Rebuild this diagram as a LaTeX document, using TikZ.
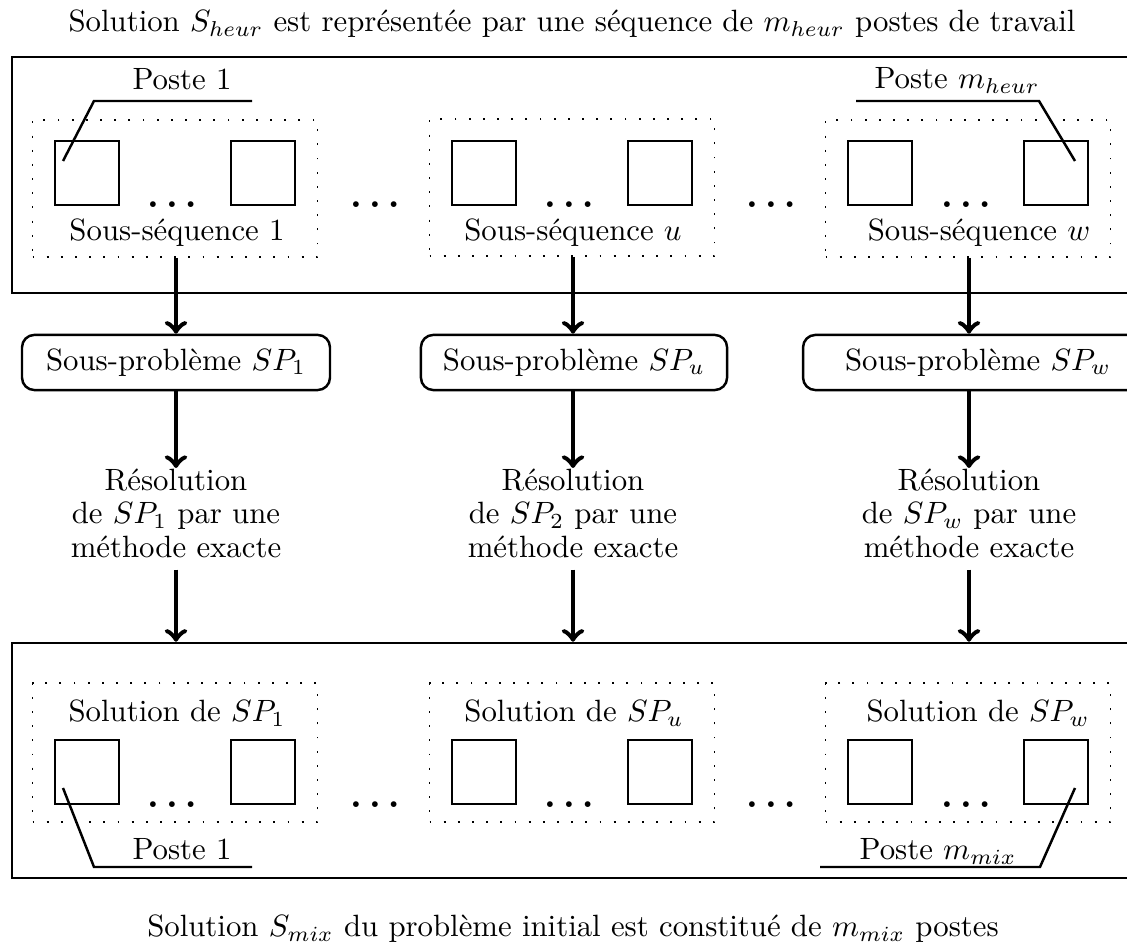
\documentclass[tikz,border=0pt]{standalone}
\usepackage{amsmath, amssymb, bm}
\usetikzlibrary{positioning}

\tikzset{
    cadre/.style={draw, thick, inner sep=0pt, minimum width=366.3pt},
    groupe/.style={draw, semithick, loosely dotted, inner sep=0pt, minimum width=92.5pt},
    poste/.style={draw, thick, inner sep=0pt, minimum size=20.8pt},
    sousprob/.style={draw, thick, rounded corners=4pt, inner sep=0pt, minimum height=17.9pt},
    resol/.style={align=center, inner sep=0pt, anchor=north, font=\fontsize{10pt}{11pt}\selectfont},
    etiq/.style={anchor=base, inner sep=0pt},
    points/.style={anchor=base, inner sep=0pt, font=\large},
    fleche/.style={->, ultra thick},
    renvoi/.style={thick}
}

\begin{document}
\begin{tikzpicture}[x=0.3247pt, y=-0.3247pt]
    \useasboundingbox (0,0) rectangle (1127,943);
    \clip (0,0) rectangle (1127,943);

    % Titles
    \node[etiq] (titreh) at (572,32) {Solution $S_{heur}$ est représentée par une séquence de $m_{heur}$ postes de travail};
    \node[etiq] (titreb) at (573,937) {Solution $S_{mix}$ du problème initial est constitué de $m_{mix}$ postes};

    % Outer frames
    \node[cadre, minimum height=76.6pt] (haut) at (576,175) {};
    \node[cadre, minimum height=76.3pt] (bas) at (576,760.5) {};

    % Sub-sequences of the heuristic solution
    \node[groupe, minimum height=44.5pt] (g1) at (175,188.5) {};
    \node[groupe, minimum height=44.5pt] (g2) at (572,187.5) {};
    \node[groupe, minimum height=44.5pt] (g3) at (968,188.5) {};

    \node[poste] (a1) at (87,173) {};
    \node[poste] (b1) at (263,173) {};
    \node[poste] (a2) at (484,173) {};
    \node[poste] (b2) at (660,173) {};
    \node[poste] (a3) at (880,173) {};
    \node[poste] (b3) at (1056,173) {};

    \node[points] (d1) at (172,208) {$\bm{\ldots}$};
    \node[points] (d2) at (569,208) {$\bm{\ldots}$};
    \node[points] (d3) at (966,208) {$\bm{\ldots}$};
    \node[points] (e1) at (375,208) {$\bm{\ldots}$};
    \node[points] (e2) at (771,208) {$\bm{\ldots}$};

    \node[etiq] (t1) at (177,241) {Sous-séquence 1};
    \node[etiq] (t2) at (573,241) {Sous-séquence $u$};
    \node[etiq] (t3) at (979,241) {Sous-séquence $w$};

    % First and last station of the heuristic solution
    \node[etiq] (ph1) at (182,90) {Poste 1};
    \node[etiq] (ph2) at (957,89) {Poste $m_{heur}$};
    \coordinate (k1) at (63,161);
    \coordinate (k2) at (1075,161);
    \draw[renvoi] (k1) -- ++(31,-60) -- ++(158,0);
    \draw[renvoi] (k2) -- ++(-36,-60) -- ++(-183,0);

    % Sub-problems
    \node[sousprob, minimum width=100pt] (sp1) at (176,362.5) {Sous-problème $SP_1$};
    \node[sousprob, minimum width=99.4pt] (sp2) at (574,362.5) {Sous-problème $SP_u$};
    \node[sousprob, minimum width=113.6pt] (sp3) at (978,362.5) {Sous-problème $SP_w$};

    % Exact resolution
    \node[resol] (r1) at (176,468) {Résolution\\de $SP_1$ par une\\méthode exacte};
    \node[resol] (r2) at (573,468) {Résolution\\de $SP_2$ par une\\méthode exacte};
    \node[resol] (r3) at (969,468) {Résolution\\de $SP_w$ par une\\méthode exacte};

    % Solutions of the sub-problems
    \node[groupe, minimum height=45.1pt] (h1) at (175,752.5) {};
    \node[groupe, minimum height=45.1pt] (h2) at (572,752.5) {};
    \node[groupe, minimum height=45.1pt] (h3) at (968,752.5) {};

    \node[etiq] (s1) at (177,722) {Solution de $SP_1$};
    \node[etiq] (s2) at (574,722) {Solution de $SP_u$};
    \node[etiq] (s3) at (978,722) {Solution de $SP_w$};

    \node[poste] (c1) at (87,772) {};
    \node[poste] (f1) at (263,772) {};
    \node[poste] (c2) at (484,772) {};
    \node[poste] (f2) at (660,772) {};
    \node[poste] (c3) at (880,772) {};
    \node[poste] (f3) at (1056,772) {};

    \node[points] (m1) at (172,808) {$\bm{\ldots}$};
    \node[points] (m2) at (569,808) {$\bm{\ldots}$};
    \node[points] (m3) at (966,808) {$\bm{\ldots}$};
    \node[points] (n1) at (375,808) {$\bm{\ldots}$};
    \node[points] (n2) at (771,808) {$\bm{\ldots}$};

    % First and last station of the final solution
    \node[etiq] (pb1) at (182,860) {Poste 1};
    \node[etiq] (pb2) at (938,860) {Poste $m_{mix}$};
    \coordinate (k3) at (63,788);
    \coordinate (k4) at (1075,788);
    \draw[renvoi] (k3) -- ++(31,79) -- ++(158,0);
    \draw[renvoi] (k4) -- ++(-35,79) -- ++(-220,0);

    % Arrows
    \draw[fleche] (g1.south -| 176,0) -- (sp1.north);
    \draw[fleche] (g2.south -| 573,0) -- (sp2.north -| 573,0);
    \draw[fleche] (g3.south -| 969,0) -- (sp3.north -| 969,0);
    \draw[fleche] (sp1.south) -- (r1.north);
    \draw[fleche] (sp2.south -| r2.north) -- (r2.north);
    \draw[fleche] (sp3.south -| r3.north) -- (r3.north);
    \draw[fleche, shorten <=3.5pt] (r1.south) -- (r1.south |- bas.north);
    \draw[fleche, shorten <=3.5pt] (r2.south) -- (r2.south |- bas.north);
    \draw[fleche, shorten <=3.5pt] (r3.south) -- (r3.south |- bas.north);
\end{tikzpicture}
\end{document}
